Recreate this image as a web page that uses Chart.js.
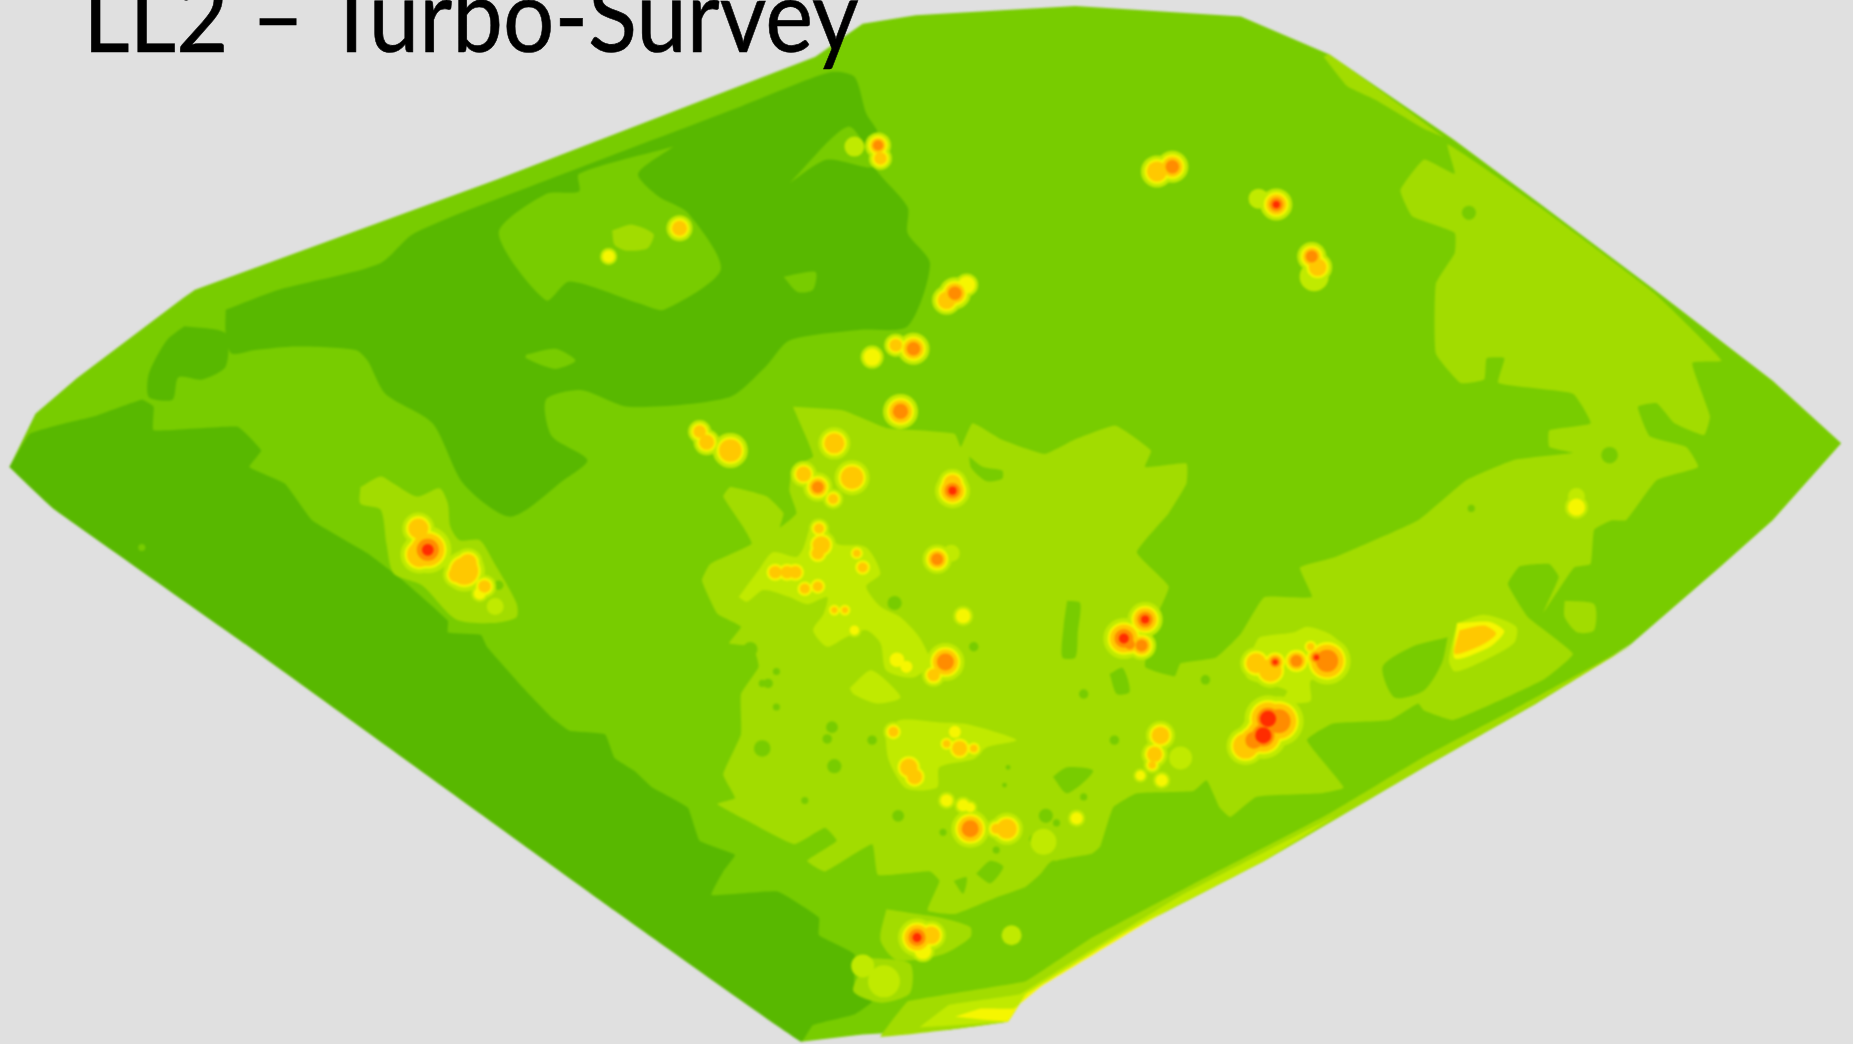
<!DOCTYPE html>
<html><head><meta charset="utf-8">
<script src="https://cdn.jsdelivr.net/npm/chart.js@4"></script>
<style>
html,body{margin:0;padding:0;background:#e0e0e0;overflow:hidden;width:1853px;height:1044px}
#wrap{position:absolute;left:0;top:0;width:1853px;height:1044px}
canvas{filter:blur(1.1px)}
#title{position:absolute;left:83px;top:-47px;font:100px/120px Lato,sans-serif;color:#000;white-space:nowrap;transform-origin:0 0;transform:scaleX(0.906);-webkit-text-stroke:0.6px #000}
</style></head><body>
<div id="wrap"><canvas id="c" width="1853" height="1044"></canvas></div>
<div id="title">LL2 – Turbo-Survey</div>
<script>
// Survey footprint and contour bands as [x, y] in map units
const surveyTitle = "LL2 – Turbo-Survey";
const footprint = [[8,395],[30,350],[65,320],[155,252],[165,245],[420,152],[690,48],[730,20],[775,13],[910,5],[1050,14],[1125,46],[1230,118],[1300,170],[1400,245],[1500,322],[1558,375],[1500,440],[1455,480],[1380,545],[1300,595],[1205,649],[1070,728],[950,790],[868,841],[853,864],[803,871],[730,875],[678,881],[520,770],[208,545],[45,430]];
const lowNorth = [[191,262],[236,245],[321,223],[351,197],[477,147],[627,90],[703,61],[723,65],[733,96],[743,113],[738,138],[768,175],[768,197],[787,223],[768,276],[728,279],[668,288],[648,310],[617,336],[532,344],[492,330],[462,338],[467,369],[497,389],[477,406],[432,437],[392,409],[366,358],[326,333],[311,305],[301,296],[251,293],[216,296],[196,299],[191,282]];
const lowWest = [[156,276],[191,282],[191,310],[171,321],[151,319],[146,338],[126,336],[126,316],[141,288]];
const lowSouth = [[8,395],[25,367],[55,358],[80,352],[120,338],[130,344],[130,364],[201,361],[221,381],[211,395],[241,409],[264,440],[311,468],[341,491],[379,525],[379,535],[407,537],[412,547],[442,581],[467,607],[482,618],[512,621],[520,641],[537,652],[552,666],[582,683],[592,711],[622,723],[612,737],[602,757],[658,754],[693,776],[693,791],[723,807],[723,836],[738,847],[723,858],[688,867],[678,881],[520,770],[208,545],[45,430]];
const midIsland = [[570,124],[540,147],[557,166],[582,180],[610,228],[562,262],[542,257],[482,238],[462,254],[422,197],[462,164],[490,162],[490,147]];
const midWedge = [[668,155],[718,107],[738,141],[700,135]];
const midPatchA = [[445,300],[470,295],[487,305],[470,312],[445,303]];
const midPatchB = [[663,234],[690,230],[688,245],[675,247]];
const highMain = [[671,344],[713,347],[750,362],[778,364],[808,367],[813,378],[823,358],[848,372],[884,384],[909,372],[944,360],[974,381],[969,395],[1004,392],[1004,409],[989,434],[962,467],[989,496],[977,525],[969,564],[994,572],[999,561],[1029,556],[1050,536],[1070,505],[1110,505],[1100,480],[1130,471],[1200,440],[1241,406],[1281,389],[1331,383],[1311,378],[1311,364],[1346,358],[1331,333],[1268,324],[1273,303],[1258,303],[1256,321],[1236,324],[1215,299],[1215,240],[1231,214],[1231,197],[1195,183],[1185,161],[1205,135],[1231,147],[1225,122],[1300,173],[1400,248],[1457,305],[1432,307],[1447,352],[1442,368],[1417,358],[1402,341],[1386,344],[1396,369],[1427,378],[1437,395],[1402,406],[1376,440],[1364,440],[1349,448],[1346,477],[1332,480],[1306,518],[1319,488],[1311,477],[1286,479],[1276,494],[1293,522],[1331,553],[1306,575],[1230,609],[1205,601],[1200,595],[1176,609],[1128,612],[1106,626],[1137,666],[1117,671],[1063,674],[1041,691],[1032,683],[1021,660],[1010,669],[962,671],[942,683],[931,716],[924,722],[894,728],[868,750],[843,759],[808,773],[785,770],[795,745],[787,737],[743,740],[738,714],[698,737],[683,728],[708,711],[698,700],[672,714],[632,694],[607,680],[622,675],[612,655],[627,621],[627,587],[642,564],[637,547],[617,544],[627,530],[607,519],[594,491],[601,477],[636,460],[629,446],[612,420],[618,412],[649,420],[663,434],[660,446],[674,434],[668,415],[671,395],[688,386],[677,358]];
const highStrip = [[1120,48],[1140,73],[1165,85],[1205,109],[1222,116],[1125,46]];
const highEdge = [[1382,545],[1300,595],[1205,649],[1070,728],[950,790],[868,841],[853,864],[803,871],[745,877],[768,847],[868,830],[924,793],[1009,748],[1125,688],[1205,640],[1281,600]];
const highWestLobe = [[305,412],[322,403],[333,409],[353,420],[372,413],[379,426],[381,445],[389,457],[406,457],[417,474],[437,510],[437,522],[417,527],[386,524],[357,495],[333,485],[327,460],[322,431],[305,426]];
const highSouthLobe = [[750,769],[776,773],[795,776],[821,784],[821,793],[798,807],[759,812],[745,795]];
const highPatchC = [[735,810],[770,815],[770,840],[745,848],[722,838]];
const highPatchD = [[1324,508],[1349,511],[1349,533],[1335,535],[1324,522]];
const highPatchE = [[518,195],[535,190],[553,198],[548,210],[530,212],[520,207]];
const midHoleA = [[1225,539],[1195,547],[1170,564],[1180,590],[1205,584],[1220,561]];
const midHoleB = [[903,508],[914,510],[912,535],[910,556],[899,556],[900,530]];
const midHoleC = [[891,657],[903,649],[925,652],[903,671]];
const midHoleD = [[826,739],[838,728],[849,733],[838,747]];
const midHoleE = [[939,570],[950,565],[956,585],[945,587]];
const midHoleF = [[820,386],[832,395],[848,398],[848,405],[835,407],[822,396]];
const midHoleG = [[872,753],[891,728],[914,742],[900,756]];
const midHoleH = [[807,745],[818,742],[815,756]];
const limeCentre = [[625,505],[642,482],[654,467],[674,471],[680,463],[688,440],[697,443],[708,460],[733,463],[745,485],[733,496],[745,513],[762,522],[778,539],[787,561],[773,573],[750,567],[745,544],[733,533],[716,539],[700,547],[688,533],[697,519],[700,505],[683,511],[668,505],[646,499],[632,509]];
const limeMiddle = [[719,582],[736,567],[747,573],[762,590],[742,595],[722,587]];
const limeEast = [[749,619],[762,609],[795,611],[815,612],[839,618],[860,626],[835,632],[824,642],[795,649],[793,666],[767,667],[752,643]];
const limeBridge = [[1061,547],[1066,539],[1094,535],[1106,530],[1125,536],[1137,547],[1140,561],[1123,570],[1109,576],[1109,593],[1094,595],[1083,595],[1089,584],[1055,573]];
const limeEdge = [[778,869],[803,850],[863,841],[905,815],[1000,757],[1130,690],[1070,728],[950,790],[868,841],[853,864]];
const yellowEdge = [[808,860],[830,853],[858,853],[880,835],[990,768],[950,790],[868,841],[853,864]];
const limePlume = [[1233,527],[1256,520],[1283,530],[1281,544],[1251,561],[1231,568],[1226,558]];
const yellowPlume = [[1233,527],[1261,526],[1273,534],[1261,547],[1231,557]];
const amberPlume = [[1235,533],[1256,529],[1266,536],[1253,546],[1231,553]];

// Hot spots: centre, outer radius, peak band (1 lime, 2 yellow, 3 amber, 4 orange, 5 and 6 red)
const hotX = [723,743,745,575,515,979,992,1065,1080,1110,1115,1112,801,808,818,773,758,738,762,592,598,618,706,680,692,705,721,806,806,693,695,692,725,730,656,666,673,681,692,706,715,793,805,815,800,790,759,767,723,756,801,812,824,808,769,774,801,815,821,821,852,843,911,883,856,776,788,781,969,951,966,956,982,977,975,999,965,983,1063,1075,1079,1097,1123,1114,1109,1082,1073,1069,1054,1061,354,362,355,393,396,386,410,406,419,1334,1334,730,748];
const hotY = [124,123,134,193,217,145,141,168,173,217,226,234,254,248,241,295,292,302,348,365,374,381,375,401,412,422,404,409,415,447,461,468,468,480,484,484,484,498,496,516,516,473,468,521,560,571,558,564,533,619,629,633,633,619,649,657,677,681,683,701,701,701,692,712,791,793,791,804,524,540,546,545,622,638,647,641,656,660,561,567,560,559,559,556,547,610,608,622,631,626,447,465,469,483,476,486,496,502,513,429,420,817,830];
const hotR = [4,6,5,6,3,8,8,4,8,7,7,7,7,8,5,8,5,5,9,5,6,9,8,6,7,4,9,7,9,4,7,5,3,4,5,5,5,4,4,2.5,2.5,7,3,4,10,5,4,3,2,4,3,6,3,3,7,6,3,3,2,10,8,4,3,6,4,10,7,5,9,11,7,6,7,6,3,5,2,3,8,9,6,7,13,6,3,14,13,13,10,10,8,13,10,11,7,6,5,3,3,5,3,5,8];
const hotPeak = [1,4,3,3,2,3,4,1,5,4,3,1,3,4,2,4,3,2,4,3,3,3,3,3,4,3,3,3,5,3,3,3,3,3,3,3,3,3,3,3,3,4,1,2,4,3,2,2,2,3,3,3,3,2,3,3,2,2,2,4,3,3,2,1,1,5,3,2,5,5,4,4,3,3,3,1,2,2,3,3,5,4,4,5,3,4,6,6,3,4,3,5,3,3,3,3,3,2,1,2,1,1,1];
// Small low-value pockets scattered over the bright bands
const pitX = [645,706,657,645,700,760,885,875,780,1040,1045,1130,1243,1362,1245,1140,1035,1020,545,422,120,729,757,824,635,657,650,704,738,681,798,894,843,948,917,943,853,850,917];
const pitY = [633,648,598,578,625,690,690,710,640,400,408,310,180,385,430,440,395,575,494,495,463,491,510,547,549,568,578,615,626,677,704,696,719,575,587,626,649,664,674];
const pitR = [7,6,3,3,4,5,6,4,4,5,4,7,6,7,3,3,3,4,3,4,3,4,6,4,6,3,4,5,4,3,3,3,3,6,4,4,2,2,3];

const C = {low:'#58b800', mid:'#78cc00', high:'#a2dc00', lime:'#c0ea00', yellow:'#f6f600', amber:'#ffc800', orange:'#ff8c00', red:'#ff2c00'};
const pts = a => { const p=a.map(([x,y])=>({x,y})); p.push(p[0]); return p; };
const poly = (a,col,t=0.25) => ({type:'scatter',data:pts(a),showLine:true,fill:'shape',backgroundColor:col,borderWidth:0,borderColor:col,pointRadius:0,tension:t});
const spots = (min,scale,add,col) => ({type:'bubble',data:hotX.map((x,i)=>({x,y:hotY[i],r:hotR[i]*scale+add,p:hotPeak[i]})).filter(d=>d.p>=min),backgroundColor:col,borderWidth:0});

const ds = [
 poly(footprint,C.mid,0),
 poly(lowNorth,C.low), poly(lowWest,C.low), poly(lowSouth,C.low,0.1),
 poly(midIsland,C.mid), poly(midWedge,C.mid), poly(midPatchA,C.mid), poly(midPatchB,C.mid),
 poly(highMain,C.high,0.12), poly(highStrip,C.high,0.1), poly(highEdge,C.high,0.05),
 poly(highWestLobe,C.high), poly(highSouthLobe,C.high), poly(highPatchC,C.high), poly(highPatchD,C.high), poly(highPatchE,C.high),
 poly(midHoleA,C.mid), poly(midHoleB,C.mid), poly(midHoleC,C.mid), poly(midHoleD,C.mid), poly(midHoleE,C.mid), poly(midHoleF,C.mid), poly(midHoleG,C.mid), poly(midHoleH,C.mid),
 {type:'bubble',data:pitX.map((x,i)=>({x,y:pitY[i],r:pitR[i]*1.18})),backgroundColor:C.mid,borderWidth:0},
 poly(limeCentre,C.lime), poly(limeMiddle,C.lime), poly(limeEast,C.lime), poly(limeBridge,C.lime), poly(limeEdge,C.lime,0.05),
 poly(yellowEdge,C.yellow,0.05), poly(limePlume,C.lime),
 spots(1,1.5,4,C.lime),
 spots(2,1.28,2.2,C.yellow),
 poly(yellowPlume,C.yellow),
 spots(3,1.25,0,C.amber),
 poly(amberPlume,C.amber),
 spots(4,.85,0,C.orange),
 spots(5,.45,0,C.red),
 spots(6,.62,0,C.red)
];
ds.forEach((d,i)=>{d.order=ds.length-i; d.clip=false;});

document.getElementById('title').textContent = surveyTitle;
new Chart(document.getElementById('c'),{
 type:'scatter',
 data:{datasets:ds},
 options:{responsive:false,animation:false,events:[],layout:{padding:0,autoPadding:false},
  plugins:{legend:{display:false},tooltip:{enabled:false},title:{display:false}},
  scales:{x:{type:'linear',min:0,max:1568,display:false},y:{type:'linear',min:0,max:883,reverse:true,display:false}}}
});
</script></body></html>
